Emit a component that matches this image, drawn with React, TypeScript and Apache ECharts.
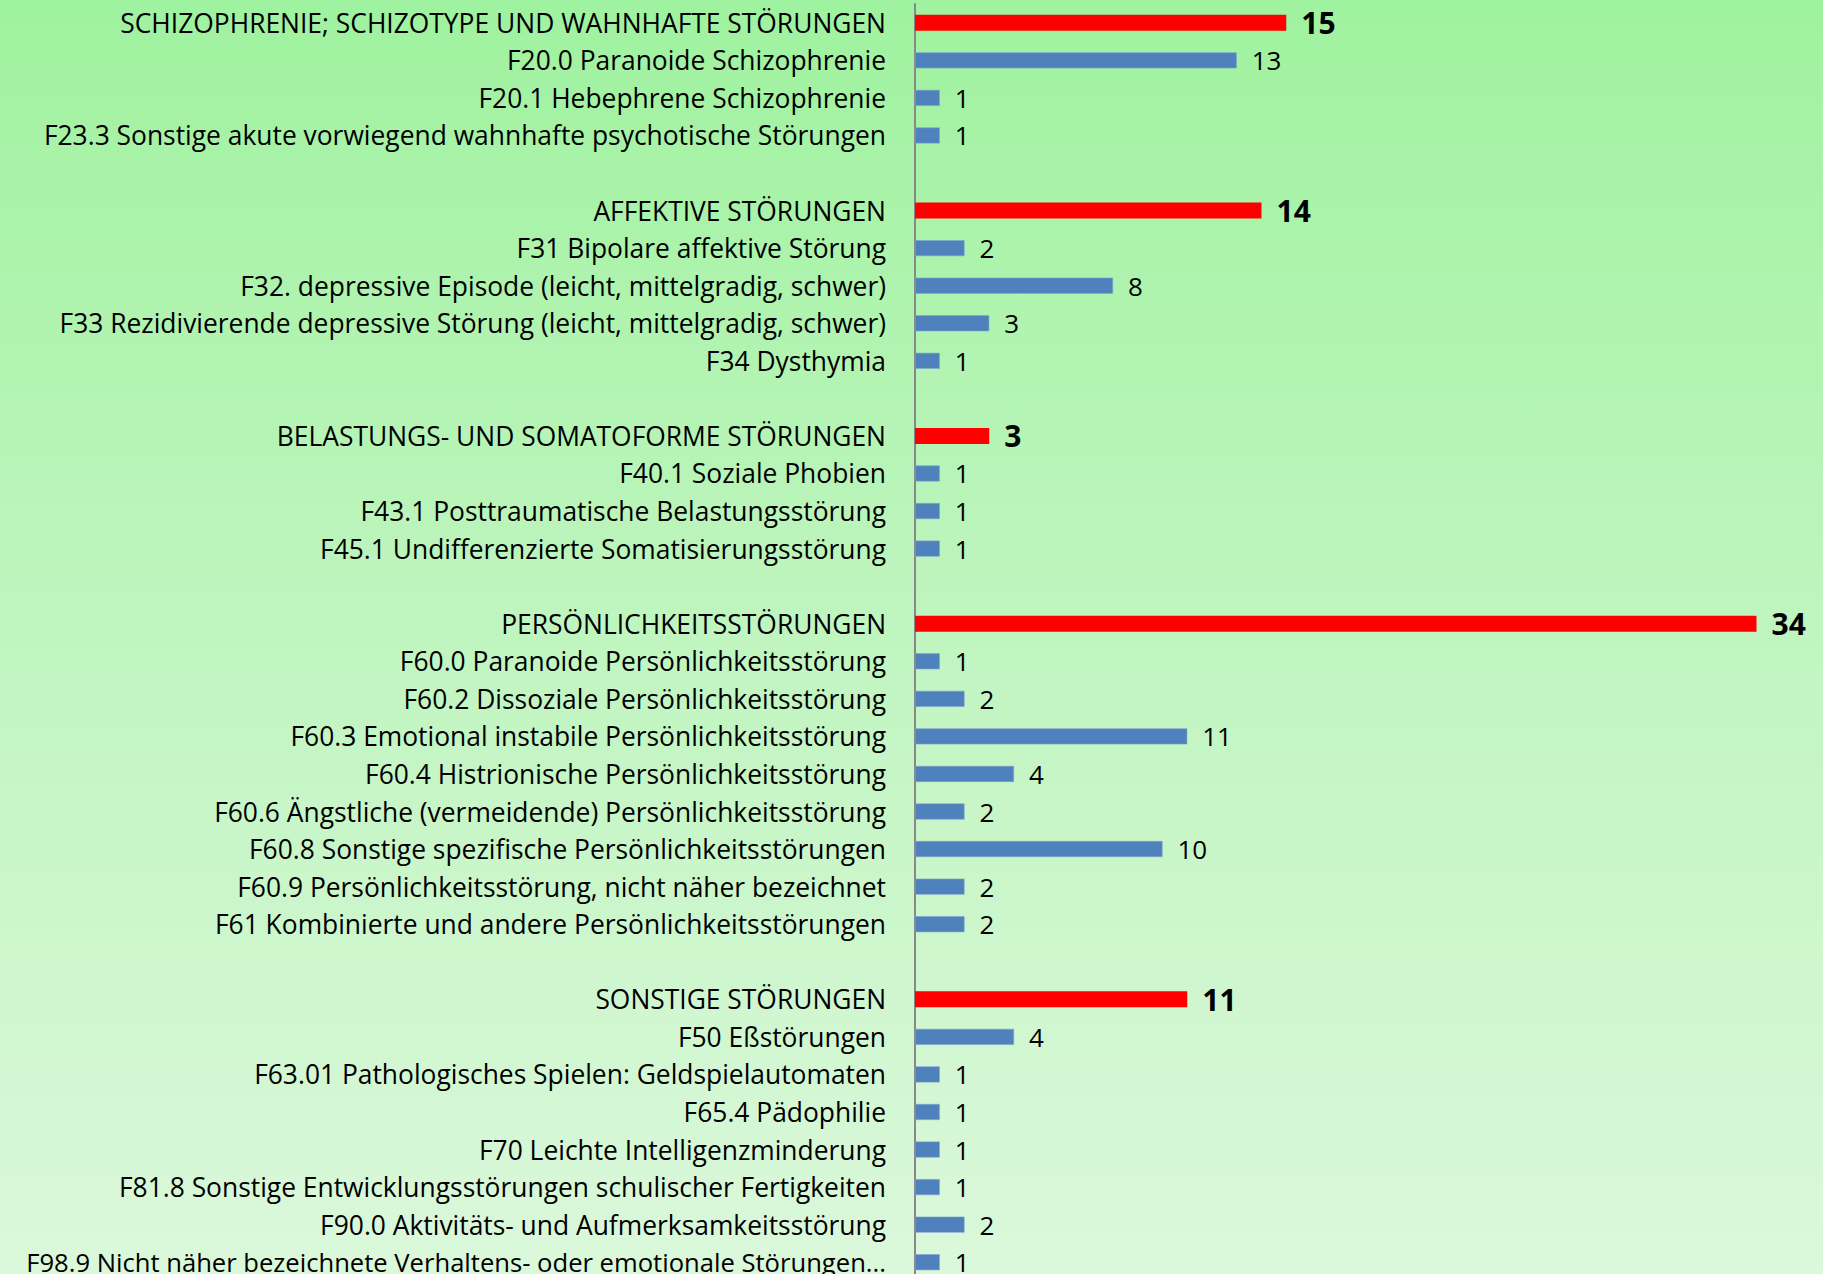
import React, { useEffect, useRef } from "react";
import * as echarts from "echarts";

const categories: string[] = [
  "SCHIZOPHRENIE; SCHIZOTYPE UND WAHNHAFTE STÖRUNGEN",
  "F20.0 Paranoide Schizophrenie",
  "F20.1 Hebephrene Schizophrenie",
  "F23.3 Sonstige akute vorwiegend wahnhafte psychotische Störungen",
  " ",
  "AFFEKTIVE STÖRUNGEN",
  "F31 Bipolare affektive Störung",
  "F32. depressive Episode (leicht, mittelgradig, schwer)",
  "F33 Rezidivierende depressive Störung (leicht, mittelgradig, schwer)",
  "F34 Dysthymia",
  "  ",
  "BELASTUNGS- UND SOMATOFORME STÖRUNGEN",
  "F40.1 Soziale Phobien",
  "F43.1 Posttraumatische Belastungsstörung",
  "F45.1 Undifferenzierte Somatisierungsstörung",
  "   ",
  "PERSÖNLICHKEITSSTÖRUNGEN",
  "F60.0 Paranoide Persönlichkeitsstörung",
  "F60.2 Dissoziale Persönlichkeitsstörung",
  "F60.3 Emotional instabile Persönlichkeitsstörung",
  "F60.4 Histrionische Persönlichkeitsstörung",
  "F60.6 Ängstliche (vermeidende) Persönlichkeitsstörung",
  "F60.8 Sonstige spezifische Persönlichkeitsstörungen",
  "F60.9 Persönlichkeitsstörung, nicht näher bezeichnet",
  "F61 Kombinierte und andere Persönlichkeitsstörungen",
  "    ",
  "SONSTIGE STÖRUNGEN",
  "F50 Eßstörungen",
  "F63.01 Pathologisches Spielen: Geldspielautomaten",
  "F65.4 Pädophilie",
  "F70 Leichte Intelligenzminderung",
  "F81.8 Sonstige Entwicklungsstörungen schulischer Fertigkeiten",
  "F90.0 Aktivitäts- und Aufmerksamkeitsstörung",
  "F98.9 Nicht näher bezeichnete Verhaltens- oder emotionale Störungen...",
];

const values: (number | null)[] = [
  15, 13, 1, 1, null,
  14, 2, 8, 3, 1, null,
  3, 1, 1, 1, null,
  34, 1, 2, 11, 4, 2, 10, 2, 2, null,
  11, 4, 1, 1, 1, 1, 2, 1,
];

const isGroup: boolean[] = [
  true, false, false, false, false,
  true, false, false, false, false, false,
  true, false, false, false, false,
  true, false, false, false, false, false, false, false, false, false,
  true, false, false, false, false, false, false, false,
];

const FONT = "Open Sans";

export default function App() {
  const ref = useRef<HTMLDivElement>(null);
  useEffect(() => {
    if (!ref.current) return;
    const chart = echarts.init(ref.current, undefined, { renderer: "svg" });
    const data = values.map((v, i) => {
      if (v === null) return { value: null };
      const g = isGroup[i];
      return {
        value: v,
        itemStyle: g
          ? { color: "#ff0000" }
          : { color: "#4f81bd", borderColor: "#7fa3d0", borderWidth: 0.6 },
        label: g
          ? { fontWeight: "bold" as const, fontSize: 30 }
          : { fontWeight: "normal" as const, fontSize: 26 },
      };
    });
    const lastIdx = categories.length - 1;
    chart.setOption({
      animation: false,
      backgroundColor: "transparent",
      grid: {
        left: 915,
        right: 17,
        top: 4,
        bottom: 0,
        containLabel: false,
        outerBoundsMode: "none",
      },
      xAxis: {
        type: "value",
        min: 0,
        max: 36,
        show: false,
      },
      yAxis: {
        type: "category",
        inverse: true,
        data: categories,
        axisLine: { show: true, lineStyle: { color: "#888888", width: 2 } },
        axisTick: { show: false },
        splitLine: { show: false },
        axisLabel: {
          margin: 29,
          color: "#000000",
          fontFamily: FONT,
          fontSize: 26.4,
          interval: 0,
          formatter: (s: string, idx: number) =>
            idx === lastIdx ? "{s|" + s.trim() + "}" : s.trim(),
          rich: {
            s: { fontFamily: FONT, fontSize: 25.6, color: "#000000" },
          },
        },
      },
      series: [
        {
          type: "bar",
          data,
          barWidth: 16,
          label: {
            show: true,
            position: "right",
            distance: 15,
            color: "#000000",
            fontFamily: FONT,
          },
        },
      ],
    });
    return () => chart.dispose();
  }, []);
  return (
    <div
      style={{
        position: "fixed",
        left: 0,
        top: 0,
        width: 1823,
        height: 1274,
        overflow: "hidden",
        background: "linear-gradient(to bottom, #9ff29f 0%, #c0f5c0 50%, #dbf8db 100%)",
      }}
    >
      <div ref={ref} style={{ width: 1823, height: 1281 }} />
    </div>
  );
}
